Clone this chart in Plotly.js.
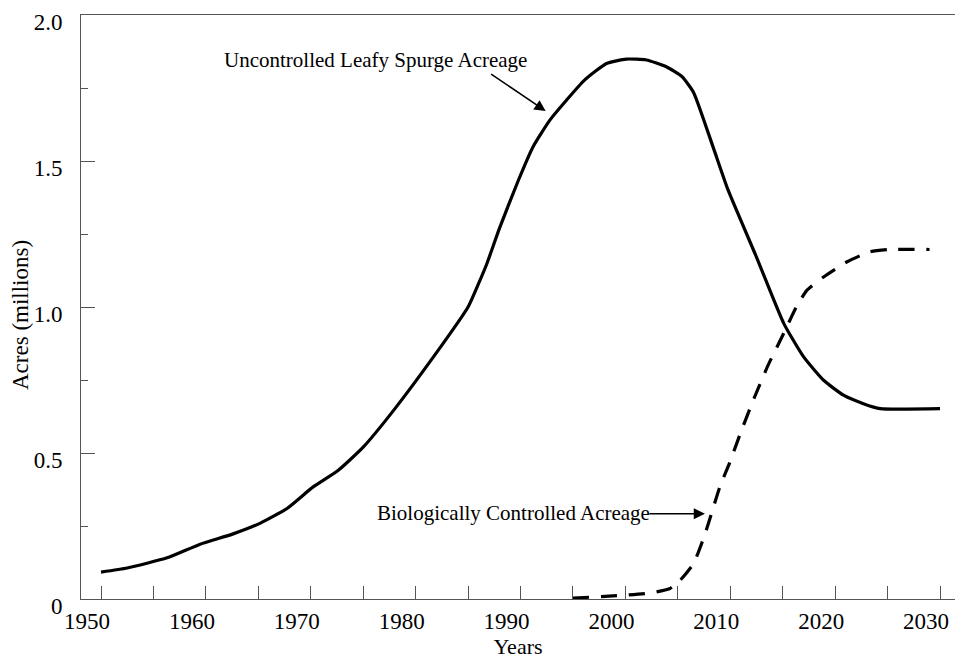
<!DOCTYPE html>
<html>
<head>
<meta charset="utf-8">
<script src="https://cdn.plot.ly/plotly-3.0.1.min.js"></script>
<style>html,body{margin:0;padding:0;background:#fff}#chart{width:955px;height:659px}</style>
</head>
<body>
<div id="chart"></div>
<script>
// Uncontrolled leafy spurge acreage (millions of acres)
const uncontrolledYears = [1950, 1952.5, 1956.3, 1959.4, 1962.6, 1965.2, 1967.7, 1970.2, 1972.6, 1975, 1977.9, 1981.7, 1985, 1986, 1986.8, 1988, 1989.8, 1991.2, 1992.8, 1994.4, 1996.1, 1998.2, 2000.1, 2002, 2003.9, 2005.4, 2006.5, 2008.4, 2009.8, 2012.5, 2015.1, 2017, 2018.9, 2020.8, 2022.7, 2024.3, 2030];
const uncontrolledValues = [0.092, 0.106, 0.141, 0.187, 0.223, 0.260, 0.309, 0.383, 0.440, 0.520, 0.646, 0.829, 1.000, 1.080, 1.149, 1.270, 1.434, 1.549, 1.640, 1.709, 1.777, 1.834, 1.849, 1.846, 1.823, 1.789, 1.735, 1.544, 1.400, 1.171, 0.944, 0.829, 0.749, 0.698, 0.669, 0.652, 0.652];

// Biologically controlled acreage (millions of acres)
const controlledYears = [1995, 1999.5, 2002.3, 2004.2, 2005.2, 2006.5, 2007.6, 2009, 2009.9, 2011.1, 2012.3, 2013.6, 2015.1, 2016.3, 2017.3, 2018.9, 2021.1, 2023.3, 2025.2, 2029];
const controlledValues = [0.003, 0.012, 0.020, 0.035, 0.063, 0.121, 0.223, 0.383, 0.463, 0.580, 0.690, 0.800, 0.910, 1.000, 1.057, 1.103, 1.154, 1.189, 1.197, 1.197];

// Axis ticks
const xTickVals = [1950, 1960, 1970, 1980, 1990, 2000, 2010, 2020, 2030];
const xTickText = ["1950", "1960", "1970", "1980", "1990", "2000", "2010", "2020", "2030"];
const yTickVals = [0, 0.5, 1.0, 1.5, 2.0];
const yTickText = ["0", "0.5", "1.0", "1.5", "2.0"];

const serif = '"Liberation Serif", "Times New Roman", Times, serif';
const axisColor = '#555';

const traces = [
  {
    x: uncontrolledYears, y: uncontrolledValues, type: 'scatter', mode: 'lines',
    line: {color: '#000', width: 3.2, shape: 'spline', smoothing: 0.5},
    name: 'Uncontrolled Leafy Spurge Acreage', hoverinfo: 'x+y'
  },
  {
    x: controlledYears, y: controlledValues, type: 'scatter', mode: 'lines',
    line: {color: '#000', width: 3.2, dash: '16px,12px', shape: 'spline', smoothing: 0.5},
    name: 'Biologically Controlled Acreage', hoverinfo: 'x+y'
  }
];

const layout = {
  width: 955, height: 659,
  margin: {l: 81, r: 0, t: 15, b: 60},
  paper_bgcolor: '#fff', plot_bgcolor: '#fff',
  showlegend: false,
  font: {family: serif, size: 23, color: '#000'},
  xaxis: {
    range: [1948.093, 2031.43],
    tickmode: 'array', tickvals: xTickVals, ticktext: xTickText,
    ticks: 'inside', ticklen: 13, tickwidth: 1, tickcolor: axisColor,
    minor: {dtick: 5, tick0: 1950, ticks: 'inside', ticklen: 13, tickwidth: 1, tickcolor: axisColor, showgrid: false},
    ticklabelshift: -14,
    ticklabelstandoff: 1,
    tickfont: {family: serif, size: 23, color: '#000'},
    showline: true, linecolor: axisColor, linewidth: 1, mirror: true,
    showgrid: false, zeroline: false,
    title: {text: 'Years', font: {family: serif, size: 22, color: '#000'}, standoff: 3}
  },
  yaxis: {
    range: [0, 2],
    tickmode: 'array', tickvals: yTickVals, ticktext: yTickText,
    ticks: 'inside', ticklen: 14, tickwidth: 1, tickcolor: axisColor,
    minor: {dtick: 0.25, tick0: 0, ticks: 'inside', ticklen: 7, tickwidth: 1, tickcolor: axisColor, showgrid: false},
    ticklabelshift: 7,
    ticklabelstandoff: 13,
    tickfont: {family: serif, size: 23, color: '#000'},
    showline: true, linecolor: axisColor, linewidth: 1,
    showgrid: false, zeroline: false
  },
  annotations: [
    {
      x: 20, y: 315, xref: 'paper', yref: 'paper', text: 'Acres (millions)', showarrow: false,
      textangle: -90, xanchor: 'center', yanchor: 'middle',
      font: {family: serif, size: 23, color: '#000'}
    },
    {
      x: 1961.5, y: 1.846, xref: 'x', yref: 'y', xanchor: 'left', yanchor: 'middle',
      text: 'Uncontrolled Leafy Spurge Acreage', showarrow: false,
      font: {family: serif, size: 21, color: '#000'}
    },
    {
      x: 1992.4, y: 1.671, xref: 'x', yref: 'y', text: '', showarrow: true,
      ax: -56, ay: -38, arrowhead: 2, arrowsize: 1.4, arrowwidth: 1.6, arrowcolor: '#000', standoff: 0
    },
    {
      x: 1976.1, y: 0.293, xref: 'x', yref: 'y', xanchor: 'left', yanchor: 'middle',
      text: 'Biologically Controlled Acreage', showarrow: false,
      font: {family: serif, size: 21, color: '#000'}
    },
    {
      x: 2007.59, y: 0.292, xref: 'x', yref: 'y', text: '', showarrow: true,
      ax: -57, ay: 0, arrowhead: 2, arrowsize: 1.4, arrowwidth: 1.6, arrowcolor: '#000', standoff: 0
    }
  ]
};

// Convert the y-title annotation from pixel placement to paper coordinates
(function () {
  const a = layout.annotations[0];
  const m = layout.margin;
  const pw = layout.width - m.l - m.r, ph = layout.height - m.t - m.b;
  a.x = (a.x - m.l) / pw;
  a.y = (layout.height - m.b - a.y) / ph;
})();

Plotly.newPlot('chart', traces, layout, {staticPlot: true, displayModeBar: false});
</script>
</body>
</html>
